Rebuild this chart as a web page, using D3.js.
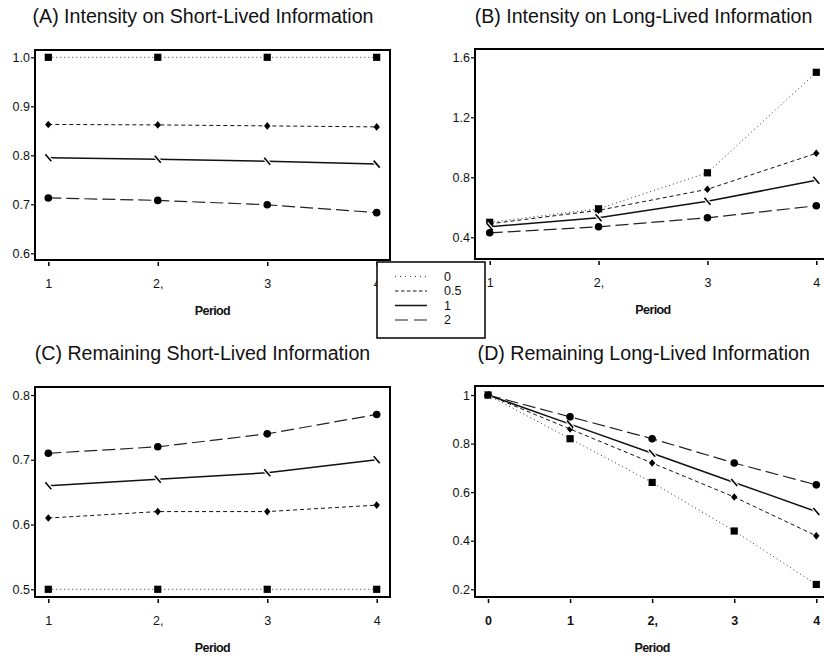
<!DOCTYPE html>
<html lang="en">
<head>
<meta charset="utf-8">
<title>Intensity and Remaining Information</title>
<style>
  body { margin: 0; background: #fff; }
  svg text { font-family: "Liberation Sans", Arial, sans-serif; fill: #111; }
</style>
</head>
<body>
<svg id="chart" width="824" height="659"></svg>
<script src="https://d3js.org/d3.v7.min.js"></script>
<script>
const seriesNames = ["0", "0.5", "1", "2"];
const periods = [1, 2, 3, 4];
const periodsFromZero = [0, 1, 2, 3, 4];
const periodLabels = ["1", "2,", "3", "4"];
const periodLabelsFromZero = ["0", "1", "2,", "3", "4"];

// one row per series, same order as seriesNames
const intensityShort = [
  [1.0, 1.0, 1.0, 1.0],
  [0.863, 0.862, 0.860, 0.858],
  [0.795, 0.792, 0.788, 0.782],
  [0.713, 0.708, 0.699, 0.683]
];
const intensityLong = [
  [0.50, 0.59, 0.83, 1.50],
  [0.49, 0.58, 0.72, 0.96],
  [0.47, 0.53, 0.64, 0.78],
  [0.43, 0.47, 0.53, 0.61]
];
const remainingShort = [
  [0.50, 0.50, 0.50, 0.50],
  [0.61, 0.62, 0.62, 0.63],
  [0.66, 0.67, 0.68, 0.70],
  [0.71, 0.72, 0.74, 0.77]
];
const remainingLong = [
  [1, 0.82, 0.64, 0.44, 0.22],
  [1, 0.86, 0.72, 0.58, 0.42],
  [1, 0.88, 0.76, 0.64, 0.52],
  [1, 0.91, 0.82, 0.72, 0.63]
];

const ticksA = [0.6, 0.7, 0.8, 0.9, 1.0];
const ticksB = [0.4, 0.8, 1.2, 1.6];
const ticksC = [0.5, 0.6, 0.7, 0.8];
const ticksD = [0.2, 0.4, 0.6, 0.8, 1];

const lineStyles = [
  { dash: "1 3", width: 1, color: "#333" },
  { dash: "4 3", width: 1, color: "#111" },
  { dash: null, width: 1.5, color: "#111" },
  { dash: "13 5", width: 1.2, color: "#222" }
];
const markerKinds = ["square", "diamond", "slash", "circle"];

const svg = d3.select("#chart");

const panels = [
  { title: "(A) Intensity on Short-Lived Information", titleX: 203, titleY: 23,
    frame: [35, 50, 390, 260], xs: periods, xLabels: periodLabels, xRange: [48.3, 376.7],
    yDomain: [0.6, 1.0], yRange: [253.3, 57.3], yTicks: ticksA, yFmt: d3.format(".1f"),
    data: intensityShort, boldX: false },
  { title: "(B) Intensity on Long-Lived Information", titleX: 643.5, titleY: 23,
    frame: [475, 49, 845, 259], xs: periods, xLabels: periodLabels, xRange: [489.7, 816.3],
    yDomain: [0.4, 1.6], yRange: [237.3, 57.3], yTicks: ticksB, yFmt: d3.format(".1f"),
    data: intensityLong, boldX: false },
  { title: "(C) Remaining Short-Lived Information", titleX: 202.5, titleY: 359.5,
    frame: [35, 387, 390, 597], xs: periods, xLabels: periodLabels, xRange: [48.3, 376.7],
    yDomain: [0.5, 0.8], yRange: [589.3, 395], yTicks: ticksC, yFmt: d3.format(".1f"),
    data: remainingShort, boldX: false },
  { title: "(D) Remaining Long-Lived Information", titleX: 643.7, titleY: 359.5,
    frame: [475, 386, 845, 597], xs: periodsFromZero, xLabels: periodLabelsFromZero, xRange: [488, 816.3],
    yDomain: [0.2, 1], yRange: [589.3, 395], yTicks: ticksD, yFmt: d => d === 1 ? "1" : d.toFixed(1),
    data: remainingLong, boldX: true }
];

function drawMarker(g, kind, cx, cy) {
  if (kind === "square") {
    g.append("rect").attr("x", cx - 3.6).attr("y", cy - 3.6)
      .attr("width", 7.2).attr("height", 7.2).attr("fill", "#000");
  } else if (kind === "diamond") {
    g.append("path")
      .attr("d", `M${cx},${cy - 3.8}L${cx + 3.2},${cy}L${cx},${cy + 3.8}L${cx - 3.2},${cy}Z`)
      .attr("fill", "#000");
  } else if (kind === "circle") {
    g.append("circle").attr("cx", cx).attr("cy", cy).attr("r", 3.8).attr("fill", "#000");
  } else {
    g.append("line").attr("x1", cx - 3).attr("y1", cy - 3.5).attr("x2", cx + 3).attr("y2", cy + 3.5)
      .attr("stroke", "#fff").attr("stroke-width", 4);
    g.append("line").attr("x1", cx - 3).attr("y1", cy - 3.5).attr("x2", cx + 3).attr("y2", cy + 3.5)
      .attr("stroke", "#000").attr("stroke-width", 1.6);
  }
}

panels.forEach(p => {
  const [fx0, fy0, fx1, fy1] = p.frame;
  const x = d3.scaleLinear().domain(d3.extent(p.xs)).range(p.xRange);
  const y = d3.scaleLinear().domain(p.yDomain).range(p.yRange);
  const g = svg.append("g");

  g.append("text").attr("x", p.titleX).attr("y", p.titleY)
    .attr("text-anchor", "middle").style("font-size", "19.6px").text(p.title);

  g.append("rect").attr("x", fx0).attr("y", fy0)
    .attr("width", fx1 - fx0).attr("height", fy1 - fy0)
    .attr("fill", "none").attr("stroke", "#000").attr("stroke-width", 2);

  const yAxis = g.append("g").attr("transform", `translate(${fx0 - 1},0)`)
    .call(d3.axisLeft(y).tickValues(p.yTicks).tickSize(3).tickPadding(1).tickFormat(p.yFmt));
  yAxis.select(".domain").remove();
  yAxis.selectAll("line").attr("stroke", "#000").attr("stroke-width", 1.2);
  yAxis.selectAll("text").style("font-size", "12.5px").style("font-family", null);

  const xAxis = g.append("g").attr("transform", `translate(0,${fy1 + 2})`)
    .call(d3.axisBottom(x).tickValues(p.xs).tickSize(4).tickPadding(13.5)
      .tickFormat((d, i) => p.xLabels[i]));
  xAxis.select(".domain").remove();
  xAxis.selectAll("line").attr("stroke", "#000").attr("stroke-width", 1.5);
  xAxis.selectAll("text").style("font-size", "12.5px").style("font-family", null)
    .style("font-weight", p.boldX ? "bold" : null);

  g.append("text")
    .attr("x", (x(p.xs[0]) + x(p.xs[p.xs.length - 1])) / 2)
    .attr("y", fy1 + 55)
    .attr("text-anchor", "middle")
    .style("font-size", "12.5px").style("font-weight", "bold").style("letter-spacing", "-0.6px")
    .text("Period");

  const line = d3.line().x((d, i) => x(p.xs[i])).y(d => y(d));
  p.data.forEach((vals, s) => {
    const st = lineStyles[s];
    g.append("path").datum(vals).attr("d", line)
      .attr("fill", "none").attr("stroke", st.color).attr("stroke-width", st.width)
      .attr("stroke-dasharray", st.dash);
  });
  p.data.forEach((vals, s) => {
    vals.forEach((v, i) => drawMarker(g, markerKinds[s], x(p.xs[i]), y(v)));
  });
});

// legend
const legend = svg.append("g");
legend.append("rect").attr("x", 377).attr("y", 262).attr("width", 108).attr("height", 76)
  .attr("fill", "#fff").attr("stroke", "#000").attr("stroke-width", 1.5);
const legendDash = ["1 4", "3.5 2.5", null, "13 6"];
seriesNames.forEach((name, s) => {
  const ry = 276.5 + s * 14.5;
  legend.append("line").attr("x1", 395).attr("x2", 427).attr("y1", ry).attr("y2", ry)
    .attr("stroke", lineStyles[s].color).attr("stroke-width", lineStyles[s].width)
    .attr("stroke-dasharray", legendDash[s]);
  legend.append("text").attr("x", 444).attr("y", ry).attr("dy", "0.35em")
    .style("font-size", "12.5px").text(name);
});
</script>
</body>
</html>
